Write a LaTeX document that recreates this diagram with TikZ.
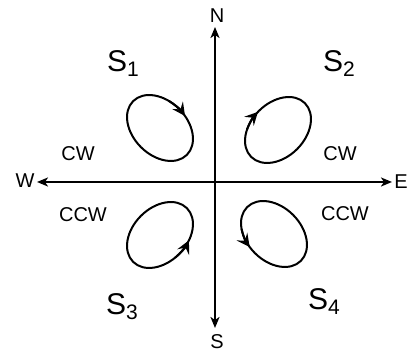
\documentclass[tikz,border=0pt]{standalone}
\usepackage{fontspec}
\setmainfont{Liberation Sans}
\usetikzlibrary{arrows.meta}
\newcommand{\quadlabel}[1]{\fontsize{30}{31}\selectfont S\raisebox{-5pt}{\fontsize{21}{21}\selectfont #1}}
\tikzset{
  axis/.style={line width=2pt,{Stealth[length=11pt,width=9pt,inset=3pt]}-{Stealth[length=11pt,width=9pt,inset=3pt]}},
  loop/.style={line width=2pt},
  looparrow/.style={line width=2pt,-{Stealth[length=13pt,width=13pt,inset=5pt]}},
  compass/.style={font=\fontsize{20}{20}\selectfont, inner sep=0pt},
  sense/.style={font=\fontsize{20}{20}\selectfont, inner sep=0pt},
  quad/.style={inner sep=0pt},
}
\begin{document}
\begin{tikzpicture}[x=1pt,y=1pt]
\useasboundingbox (-215,-176) rectangle (193,182);
% axis end points
\coordinate (nTip) at (0,155);
\coordinate (sTip) at (0,-146);
\coordinate (wTip) at (-178,0);
\coordinate (eTip) at (177,0);
\draw[axis] (sTip) -- (nTip);
\draw[axis] (wTip) -- (eTip);
% compass labels
\node[compass] (N) at (2,166) {N};
\node[compass] (S) at (2,-160) {S};
\node[compass] (W) at (-190,1) {W};
\node[compass] (E) at (186,0) {E};
% quadrant labels
\node[quad] (s1) at (-92,118) {\quadlabel{1}};
\node[quad] (s2) at (124,118) {\quadlabel{2}};
\node[quad] (s3) at (-93,-125) {\quadlabel{3}};
\node[quad] (s4) at (109,-120) {\quadlabel{4}};
% sense labels
\node[sense] (cw1) at (-137,28) {CW};
\node[sense] (cw2) at (125,28) {CW};
\node[sense] (ccw1) at (-132,-33) {CCW};
\node[sense] (ccw2) at (130,-32) {CCW};
% circulation loops
\begin{scope}[shift={(-55,54)},rotate=-45]
  \draw[loop] (0,0) ellipse (38 and 27);
  \draw[looparrow] (110:38 and 27) arc[start angle=110,end angle=76,x radius=38,y radius=27];
\end{scope}
\begin{scope}[shift={(63,52)},rotate=45]
  \draw[loop] (0,0) ellipse (38 and 27);
  \draw[looparrow] (124:38 and 27) arc[start angle=124,end angle=92,x radius=38,y radius=27];
\end{scope}
\begin{scope}[shift={(-55,-53)},rotate=45]
  \draw[loop] (0,0) ellipse (38 and 27);
  \draw[looparrow] (262:38 and 27) arc[start angle=262,end angle=296,x radius=38,y radius=27];
\end{scope}
\begin{scope}[shift={(59,-52)},rotate=-45]
  \draw[loop] (0,0) ellipse (38 and 27);
  \draw[looparrow] (226:38 and 27) arc[start angle=226,end angle=258,x radius=38,y radius=27];
\end{scope}
\end{tikzpicture}
\end{document}
